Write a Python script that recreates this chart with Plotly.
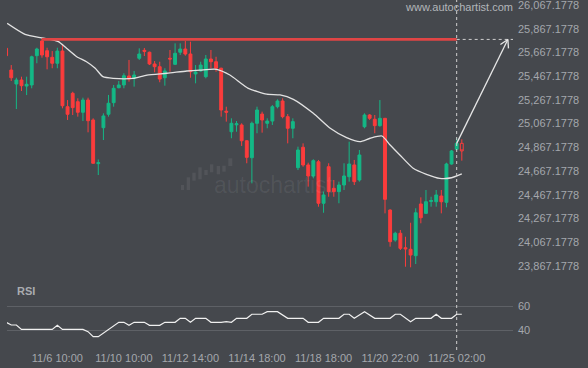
import math
import plotly.graph_objects as go

# ---------------- data ----------------
candle_idx = list(range(90))
opens = [25702, 25519, 25401, 25435, 25384, 25393, 25640, 25764, 25682, 25626,
         25576, 25679, 25210, 25323, 25252, 25163, 25266, 25098, 24730, 25033,
         25146, 25244, 25370, 25393, 25469, 25449, 25618, 25685, 25669, 25570,
         25547, 25454, 25618, 25567, 25669, 25696, 25654, 25486, 25511, 25463,
         25612, 25589, 25534, 25172, 24999, 25057, 25056, 24923, 24780, 25070,
         25148, 25070, 25089, 25210, 25258, 25126, 25028, 24696, 24868, 24719,
         24626, 24746, 24396, 24704, 24522, 24494, 24550, 24620, 24719, 24592,
         25041, 25140, 25104, 25050, 25112, 24339, 24086, 24143, 24021, 24008,
         23954, 24390, 24311, 24411, 24409, 24457, 24404, 24727, 24851, 24901]
highs = [25705, 25561, 25454, 25463, 25463, 25640, 25707, 25786, 25707, 25679,
         25707, 25736, 25266, 25336, 25281, 25286, 25286, 25112, 24765, 25154,
         25309, 25393, 25427, 25492, 25604, 25511, 25702, 25705, 25674, 25595,
         25589, 25534, 25688, 25744, 25744, 25764, 25758, 25561, 25589, 25646,
         25688, 25631, 25539, 25210, 25112, 25089, 25070, 24928, 25084, 25210,
         25168, 25112, 25224, 25272, 25281, 25148, 25112, 24873, 24901, 24738,
         24767, 24761, 24494, 24733, 24592, 24578, 24733, 24915, 24761, 24845,
         25154, 25148, 25140, 25266, 25115, 24345, 24156, 24171, 24114, 24232,
         24354, 24446, 24508, 24451, 24508, 24508, 24738, 24845, 24944, 24935]
lows = [25636, 25427, 25190, 25342, 25308, 25365, 25576, 25623, 25525, 25534,
        25534, 25196, 25098, 25140, 25126, 25089, 24994, 24730, 24634, 24929,
        25126, 25210, 25365, 25365, 25421, 25379, 25604, 25637, 25561, 25500,
        25416, 25387, 25505, 25561, 25646, 25640, 25454, 25407, 25505, 25449,
        25534, 25505, 25126, 25084, 24944, 24999, 24879, 24733, 24564, 24986,
        24991, 25028, 25056, 25196, 25112, 24901, 24944, 24676, 24704, 24536,
        24606, 24367, 24316, 24451, 24451, 24396, 24508, 24578, 24550, 24578,
        25028, 25098, 24986, 25041, 24311, 24030, 24072, 24002, 23861, 23856,
        23884, 24227, 24306, 24367, 24367, 24311, 24362, 24721, 24845, 24755]
closes = [25640, 25454, 25435, 25387, 25399, 25631, 25696, 25646, 25631, 25576,
          25679, 25218, 25146, 25202, 25163, 25266, 25092, 24733, 24738, 25132,
          25239, 25365, 25393, 25471, 25443, 25477, 25654, 25677, 25570, 25547,
          25443, 25511, 25612, 25660, 25696, 25654, 25505, 25502, 25561, 25612,
          25589, 25534, 25182, 25164, 25070, 25066, 24923, 24783, 25070, 25182,
          25098, 25089, 25210, 25258, 25126, 25028, 25084, 24845, 24719, 24626,
          24755, 24396, 24466, 24494, 24494, 24550, 24626, 24727, 24578, 24803,
          25140, 25112, 25050, 25112, 24429, 24072, 24143, 24016, 24012, 23960,
          24316, 24274, 24409, 24419, 24466, 24409, 24727, 24837, 24901, 24837]

ma_idx = [0.2, 3.7, 7.3, 10.2, 11.8, 13.8, 15.7, 17.4, 18.9, 20.9, 24.8, 27.5,
          31.4, 35.3, 37.9, 41.1, 43.7, 47.3, 50.9, 53.5, 56.1, 60.0, 63.3, 66.5,
          69.1, 71.1, 73.4, 75.0, 76.9, 79.5, 82.1, 84.7, 87.0, 89.0]
ma_val = [25913, 25820, 25787, 25758, 25702, 25631, 25589, 25534, 25463, 25449,
          25449, 25477, 25492, 25511, 25519, 25525, 25477, 25365, 25315, 25309,
          25272, 25154, 25028, 24949, 24915, 24944, 24963, 24887, 24803, 24691,
          24640, 24606, 24611, 24643]

rsi_idx = [0, 1, 2, 3, 9, 10, 11, 15, 16, 17, 18, 22, 23, 24, 25, 27, 28, 30,
           31, 33, 34, 35, 36, 37, 39, 40, 42, 43, 44, 45, 47, 48, 50, 51, 53,
           55, 58, 59, 61, 62, 65, 66, 67, 68, 70, 72, 75, 76, 77, 79, 80, 83,
           84, 85, 87, 88, 89]
rsi_val = [46.6, 44.4, 44.4, 40.8, 40.8, 44.1, 40.8, 40.8, 38.9, 34.8, 34.8,
           46.6, 46.6, 44.1, 46.6, 46.6, 44.1, 44.1, 46.6, 46.6, 49.9, 49.9,
           46.6, 49.9, 49.9, 46.6, 46.6, 47.1, 46.6, 49.9, 49.9, 53.2, 53.2,
           55.3, 55.3, 49.9, 49.9, 46.6, 46.6, 49.9, 49.9, 53.2, 53.2, 49.9,
           55.3, 49.9, 49.9, 53.2, 53.2, 47.1, 49.9, 49.9, 53.2, 49.9, 49.9,
           53.2, 53.2]

resistance_level = 25777
resistance_start_idx = 7
pattern_end_idx = 88
forecast_end_idx = 98

price_ticks = [23867.1778 + 200 * k for k in range(12)]
rsi_ticks = [40, 60]
time_tick_idx = [10, 23, 36, 49, 62, 75, 88]
time_tick_text = ["11/6 10:00", "11/10 10:00", "11/12 14:00", "11/14 18:00",
                  "11/18 18:00", "11/20 22:00", "11/25 02:00"]

# ---------------- styling / layout ----------------
W, H = 588, 368
BG = "#45484d"
GREEN = "#14b886"
RED = "#fb3c3c"
TXT = "#a4a7ac"
FONT = "Liberation Sans, Arial, sans-serif"

PLOT_L, PLOT_R = 7, 513          # pixel x of plot area
MAIN_T, MAIN_B = 0, 280          # pixel y of price panel
RSI_T, RSI_B = 290, 345          # pixel y of rsi panel

xr = [0.17, 99.0]
yr = [23749.2, 26109.3]
rsi_r = [27.94, 73.15]


def px(x):
    return x / W


def py(y):
    return 1 - y / H


fig = go.Figure()

fig.add_trace(go.Candlestick(
    x=candle_idx[:-1], open=opens[:-1], high=highs[:-1], low=lows[:-1], close=closes[:-1],
    increasing=dict(line=dict(color=GREEN, width=1), fillcolor=GREEN),
    decreasing=dict(line=dict(color=RED, width=1), fillcolor=RED),
    whiskerwidth=0, hoverinfo="skip", xaxis="x", yaxis="y", showlegend=False))
fig.add_trace(go.Candlestick(
    x=candle_idx[-1:], open=opens[-1:], high=highs[-1:], low=lows[-1:], close=closes[-1:],
    increasing=dict(line=dict(color=GREEN, width=1), fillcolor="rgba(0,0,0,0)"),
    decreasing=dict(line=dict(color=RED, width=1), fillcolor="rgba(0,0,0,0)"),
    whiskerwidth=0, hoverinfo="skip", xaxis="x", yaxis="y", showlegend=False))

fig.add_trace(go.Scatter(x=ma_idx, y=ma_val, mode="lines",
                         line=dict(color="#e2e2e2", width=1.3, shape="spline", smoothing=0.6),
                         hoverinfo="skip", showlegend=False, xaxis="x", yaxis="y"))

# resistance line
fig.add_trace(go.Scatter(x=[resistance_start_idx, pattern_end_idx],
                         y=[resistance_level, resistance_level], mode="lines",
                         line=dict(color="#e04545", width=2.6),
                         hoverinfo="skip", showlegend=False, xaxis="x", yaxis="y"))
# dashed extension
fig.add_trace(go.Scatter(x=[pattern_end_idx, xr[1]], y=[resistance_level, resistance_level],
                         mode="lines", line=dict(color="#cfcfcf", width=1, dash="3px,3px"),
                         hoverinfo="skip", showlegend=False, xaxis="x", yaxis="y"))

# forecast arrow
ax0, ay0 = pattern_end_idx, closes[pattern_end_idx]
ax1, ay1 = forecast_end_idx, resistance_level
sx = (PLOT_R - PLOT_L) / (xr[1] - xr[0])
sy = (MAIN_B - MAIN_T) / (yr[1] - yr[0])
dxp, dyp = (ax1 - ax0) * sx, (ay1 - ay0) * sy
L = math.hypot(dxp, dyp)
ux, uy = -dxp / L, -dyp / L
head = []
for ang in (math.radians(30), math.radians(-30)):
    rx = ux * math.cos(ang) - uy * math.sin(ang)
    ry = ux * math.sin(ang) + uy * math.cos(ang)
    head.append((ax1 + rx * 9 / sx, ay1 + ry * 9 / sy))
fig.add_trace(go.Scatter(x=[ax0, ax1, None, head[0][0], ax1, head[1][0]],
                         y=[ay0, ay1, None, head[0][1], ay1, head[1][1]],
                         mode="lines", line=dict(color="#e6e6e6", width=1.3),
                         hoverinfo="skip", showlegend=False, xaxis="x", yaxis="y"))

# RSI
fig.add_trace(go.Scatter(x=rsi_idx, y=rsi_val, mode="lines",
                         line=dict(color="#f0f0f0", width=1.2),
                         hoverinfo="skip", showlegend=False, xaxis="x2", yaxis="y2"))

shapes = [
    dict(type="line", xref="x", yref="paper", x0=pattern_end_idx, x1=pattern_end_idx,
         y0=py(350), y1=1, line=dict(color="#cfcfcf", width=1, dash="3px,3px"), layer="above"),
]
# faint autochartist logo bars
logo_bars = [(181, 184, 185, 190), (186.7, 190, 177.3, 190), (192.3, 195.7, 172.7, 180.7),
             (198.3, 201.7, 167.3, 179.3), (204.3, 207.7, 170, 175), (210, 213.3, 164.3, 172.3),
             (216.7, 220, 166, 174.3), (222.3, 225.7, 165.7, 171.7), (228.3, 232.3, 158.3, 166)]
for x0, x1, y0, y1 in logo_bars:
    shapes.append(dict(type="rect", xref="paper", yref="paper", x0=px(x0), x1=px(x1),
                       y0=py(y1), y1=py(y0), line=dict(width=0),
                       fillcolor="rgba(255,255,255,0.07)", layer="below"))

annotations = [
    dict(text="autochartist", xref="paper", yref="paper", x=px(212), y=py(185),
         xanchor="left", yanchor="middle", showarrow=False,
         font=dict(family=FONT, size=23, color="rgba(255,255,255,0.07)")),
    dict(text="www.autochartist.com", xref="paper", yref="paper", x=px(403), y=py(7),
         xanchor="left", yanchor="middle", showarrow=False,
         font=dict(family=FONT, size=11, color="#b3b6ba")),
    dict(text="<b>RSI</b>", xref="paper", yref="paper", x=px(15), y=py(291),
         xanchor="left", yanchor="middle", showarrow=False,
         font=dict(family=FONT, size=11, color="#a9acb0")),
]

fig.update_layout(
    width=W, height=H,
    margin=dict(l=0, r=0, t=0, b=0),
    paper_bgcolor=BG, plot_bgcolor=BG,
    showlegend=False, hovermode=False, boxgap=0.2,
    font=dict(family=FONT, size=11, color=TXT),
    xaxis=dict(domain=[px(PLOT_L), px(PLOT_R)], range=xr, showgrid=False, zeroline=False,
               showticklabels=False, ticks="", showline=False, anchor="y",
               rangeslider=dict(visible=False)),
    yaxis=dict(domain=[py(MAIN_B), py(MAIN_T)], range=yr, side="right", anchor="x",
               tickvals=price_ticks, tickformat=",.4f", showgrid=False, zeroline=False,
               ticks="", showline=False, ticklabelstandoff=4, ticklabeloverflow="allow",
               tickfont=dict(family=FONT, size=11, color=TXT)),
    xaxis2=dict(domain=[px(PLOT_L), px(PLOT_R)], range=xr, showgrid=False, zeroline=False,
                tickvals=time_tick_idx, ticktext=time_tick_text, ticks="", showline=False,
                anchor="y2", ticklabelstandoff=5,
                tickfont=dict(family=FONT, size=11, color=TXT)),
    yaxis2=dict(domain=[py(RSI_B), py(RSI_T)], range=rsi_r, side="right", anchor="x2",
                tickvals=rsi_ticks, showgrid=True, gridcolor="#5e6166", gridwidth=1,
                zeroline=False, ticks="", showline=False, ticklabelstandoff=4,
                tickfont=dict(family=FONT, size=11, color=TXT)),
    shapes=shapes, annotations=annotations,
)

page_fix = ("document.documentElement.style.margin='0';document.body.style.margin='0';"
            "document.body.style.padding='0';document.body.style.overflow='hidden';"
            "document.body.style.background='" + BG + "';")

fig.write_html("out.html", post_script=page_fix,
               config={"displayModeBar": False, "staticPlot": True})
